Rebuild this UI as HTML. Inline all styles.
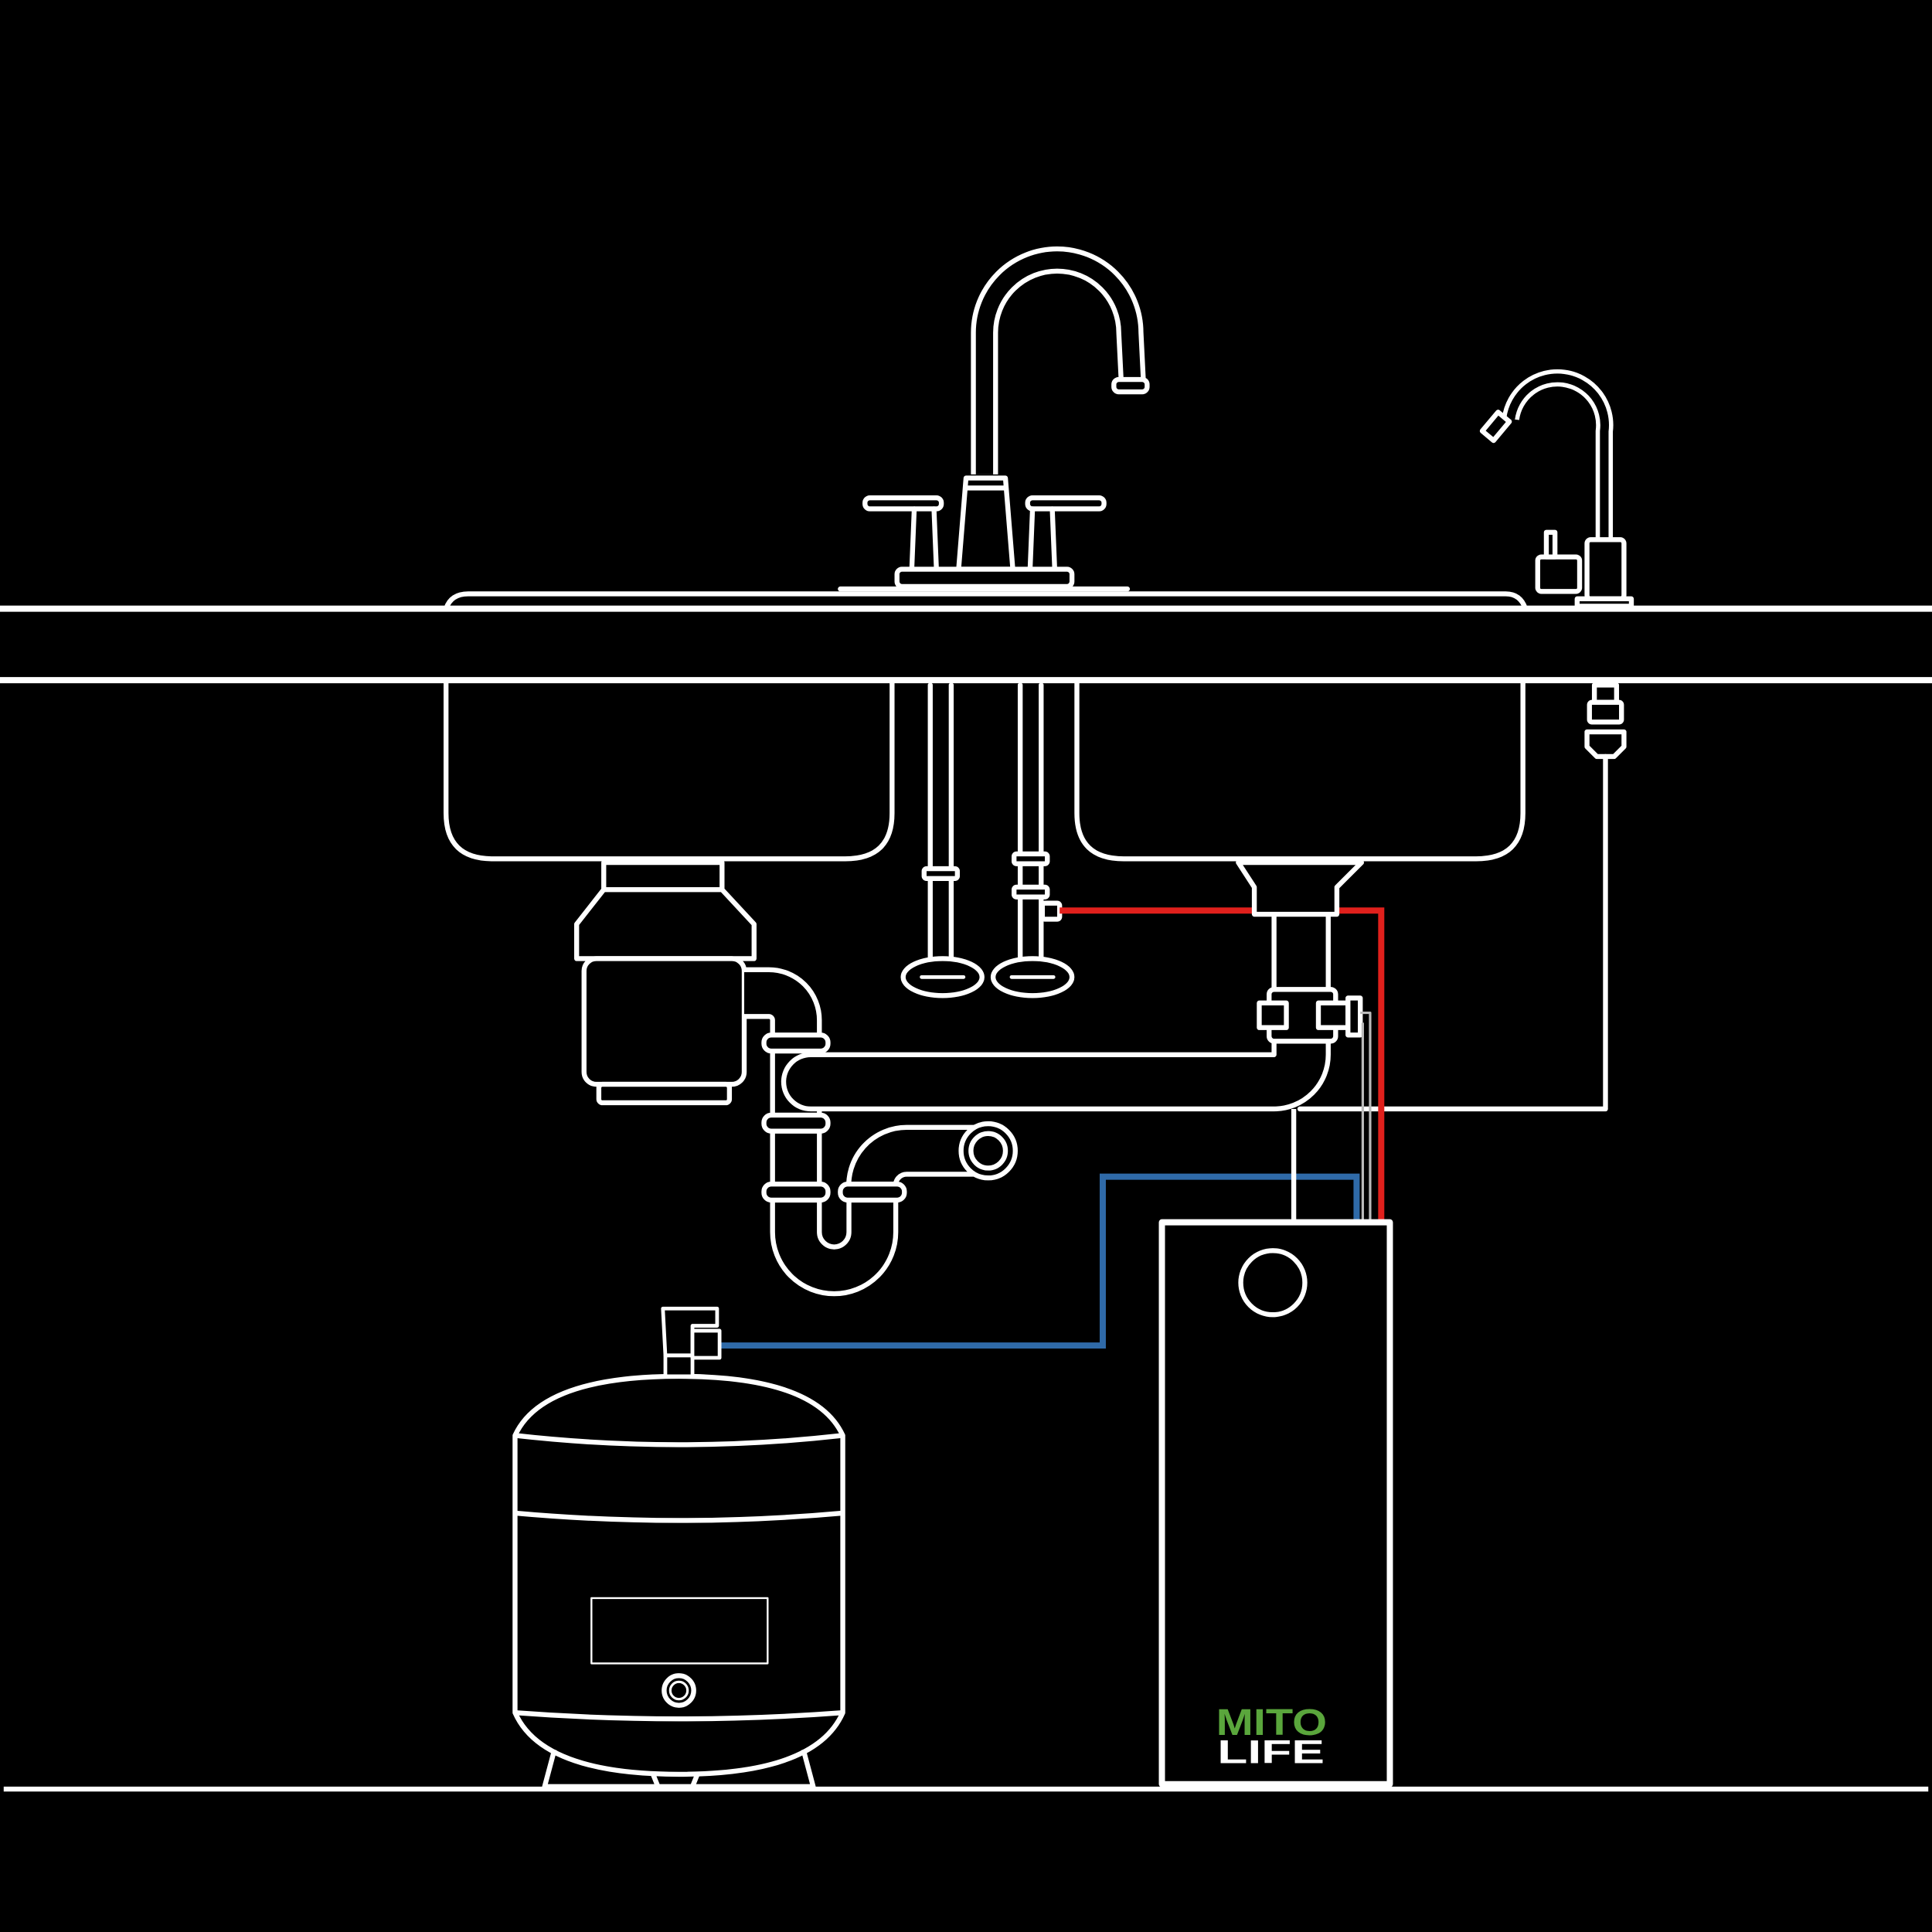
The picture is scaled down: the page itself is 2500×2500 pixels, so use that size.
<!DOCTYPE html>
<html><head><style>html,body{margin:0;padding:0;background:#000}svg{display:block}</style></head><body>
<svg width="2500" height="2500" viewBox="0 0 1568 1568" xmlns="http://www.w3.org/2000/svg">
<rect width="1568" height="1568" fill="#000"/>
<g fill="none" stroke="#fff" stroke-width="4" stroke-linejoin="round" stroke-linecap="round">
<line x1="0" y1="494" x2="1568" y2="494" stroke-width="5"/>
<line x1="0" y1="552" x2="1568" y2="552" stroke-width="5"/>
<path d="M362 494 Q366 482 380 482 L1222 482 Q1234 482 1238 494"/>
<path d="M362 552 V660 Q362 697 400 697 H686 Q724 697 724 660 V552"/>
<path d="M874 552 V660 Q874 697 912 697 H1198 Q1236 697 1236 660 V552"/>
<path d="M799 385 V270 A59 59 0 0 1 917 270 L919 310" stroke="#fff" stroke-width="22" stroke-linecap="butt"/>
<path d="M799 385 V270 A59 59 0 0 1 917 270 L919 310" stroke="#000" stroke-width="14" stroke-linecap="butt"/>
<rect x="904" y="308" width="27" height="10" rx="4" fill="#000"/>
<path d="M784 388 H816 L822 462 H778 Z" fill="#000"/>
<line x1="784" y1="396" x2="816" y2="396"/>
<rect x="702" y="404" width="62" height="9" rx="4" fill="#000"/>
<rect x="834" y="404" width="62" height="9" rx="4" fill="#000"/>
<path d="M742 413 L740 462 M758 413 L760 462 M838 413 L836 462 M854 413 L856 462"/>
<rect x="728" y="462" width="142" height="14" rx="4" fill="#000"/>
<line x1="682" y1="478" x2="915" y2="478"/>
<path d="M1302 440 V350 A38 38 0 0 0 1226 340" stroke="#fff" stroke-width="14" stroke-linecap="butt"/>
<path d="M1302 440 V350 A38 38 0 0 0 1226 340" stroke="#000" stroke-width="7" stroke-linecap="butt"/>
<rect x="1208" y="336" width="12" height="20" transform="rotate(40 1214 346)" fill="#000"/>
<rect x="1288" y="438" width="30" height="48" rx="3" fill="#000"/>
<rect x="1248" y="452" width="34" height="28" rx="3" fill="#000"/>
<rect x="1255" y="432" width="7" height="20" fill="#000"/>
<rect x="1280" y="486" width="44" height="6" fill="#000"/>
<rect x="1294" y="556" width="18" height="14" fill="#000"/>
<rect x="1290" y="570" width="26" height="16" rx="2" fill="#000"/>
<path d="M1288 594 H1318 V606 L1310 614 H1296 L1288 606 Z" fill="#000"/>
<path d="M1303 614 V900 H1055"/>
<path d="M755 556 V780 M772 556 V780 M828 556 V780 M845 556 V780"/>
<rect x="750" y="705" width="27" height="8" rx="2" fill="#000"/>
<rect x="823" y="693" width="27" height="8" rx="2" fill="#000"/>
<rect x="823" y="720" width="27" height="8" rx="2" fill="#000"/>
<rect x="846" y="733" width="14" height="13" rx="2" fill="#000"/>
<ellipse cx="765" cy="793" rx="32" ry="15" fill="#000"/>
<ellipse cx="838" cy="793" rx="32" ry="15" fill="#000"/>
<line x1="748" y1="793" x2="782" y2="793" stroke-width="3"/>
<line x1="821" y1="793" x2="855" y2="793" stroke-width="3"/>
</g>
<g fill="none" stroke-width="5">
<path d="M860 739 H1121 V992" stroke="#e0201c"/>
<path d="M582 1092 H895 V955 H1101 V992" stroke="#2f6aa8"/>
</g>
<g fill="none" stroke="#fff" stroke-width="4" stroke-linejoin="round">
<rect x="490" y="700" width="96" height="22" fill="#000"/>
<path d="M490 722 H586 L612 750 V778 H468 V750 Z" fill="#000"/>
<rect x="474" y="778" width="130" height="102" rx="10" fill="#000"/>
<rect x="486" y="880" width="106" height="15" rx="3" fill="#000"/>
<!-- disposal elbow + p-trap combined -->
<path d="M604 806 H624 A22 22 0 0 1 646 828 V1000 A31 31 0 0 0 708 1000 V965 A28 28 0 0 1 736 934 H805" stroke="#fff" stroke-width="42"/>
<path d="M604 806 H624 A22 22 0 0 1 646 828 V1000 A31 31 0 0 0 708 1000 V965 A28 28 0 0 1 736 934 H805" stroke="#000" stroke-width="34"/>
<path d="M658 878 H1034 A22 22 0 0 0 1056 856 V740" stroke="#fff" stroke-width="48" stroke-linecap="round"/>
<path d="M658 878 H1034 A22 22 0 0 0 1056 856 V740" stroke="#000" stroke-width="40" stroke-linecap="round"/>
<path d="M1005 700 H1105 L1085 720 V742 H1018 V720 Z" fill="#000"/>
<rect x="1030" y="803" width="54" height="42" rx="4" fill="#000"/>
<rect x="1022" y="814" width="22" height="20" fill="#000"/>
<rect x="1070" y="814" width="24" height="20" fill="#000"/>
<rect x="1094" y="810" width="10" height="30" fill="#000"/>
<path d="M1104 822 H1112 V992 M1106 830 V992" stroke="#bbb" stroke-width="2"/>
<path d="M1050 900 V992"/>
<circle cx="802" cy="934" r="22" fill="#000"/>
<circle cx="802" cy="934" r="14"/>
<rect x="620" y="840" width="52" height="13" rx="6" fill="#000"/>
<rect x="620" y="905" width="52" height="13" rx="6" fill="#000"/>
<rect x="620" y="961" width="52" height="13" rx="6" fill="#000"/>
<rect x="682" y="961" width="52" height="13" rx="6" fill="#000"/>
<path d="M418 1165 Q440 1117 551 1117 Q662 1117 684 1165 V1390 Q662 1440 551 1440 Q440 1440 418 1390 Z" fill="#000"/>
<path d="M418 1165 Q551 1180 684 1165 M418 1228 Q551 1240 684 1228 M418 1390 Q551 1400 684 1390"/>
<path d="M450 1420 L442 1450 H660 L652 1420 M530 1440 L534 1450 M566 1440 L562 1450"/>
<rect x="480" y="1297" width="143" height="53" stroke-width="1.5"/>
<circle cx="551" cy="1372" r="12"/>
<circle cx="551" cy="1372" r="7" stroke-width="2"/>
<rect x="540" y="1100" width="22" height="17" fill="#000" stroke-width="3"/>
<path d="M538 1062 H582 V1076 H562 V1100 H540 Z" fill="#000" stroke-width="3"/>
<rect x="562" y="1080" width="22" height="22" fill="#000" stroke-width="3"/>
<rect x="943" y="992" width="185" height="456" fill="#000" stroke-width="5"/>
<circle cx="1033" cy="1041" r="26"/>
<line x1="3" y1="1452" x2="1565" y2="1452" stroke-width="4"/>
</g>
<text x="987" y="1408" font-family="Liberation Sans, sans-serif" font-weight="bold" font-size="30" fill="#5aa63c" textLength="90" lengthAdjust="spacingAndGlyphs">MITO</text>
<text x="988" y="1431" font-family="Liberation Sans, sans-serif" font-weight="bold" font-size="27" fill="#fff" textLength="87" lengthAdjust="spacingAndGlyphs">LIFE</text>
</svg>
</body></html>
